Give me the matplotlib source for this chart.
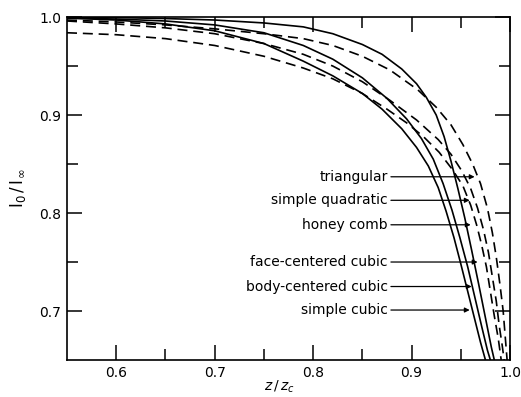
import matplotlib
matplotlib.use("Agg")
import matplotlib.pyplot as plt

# solid curves (three-dimensional lattices)
s1_x = [0.550, 0.600, 0.650, 0.700, 0.750, 0.790, 0.820, 0.850, 0.870, 0.890, 0.905, 0.915,
        0.925, 0.933, 0.940, 0.947, 0.954, 0.961, 0.968, 0.975, 0.981, 0.984]
s1_y = [1.000, 0.9995, 0.9985, 0.997, 0.994, 0.990, 0.983, 0.972, 0.962, 0.947, 0.932, 0.918,
        0.900, 0.878, 0.853, 0.825, 0.795, 0.762, 0.728, 0.693, 0.663, 0.650]
s2_x = [0.550, 0.600, 0.650, 0.700, 0.750, 0.790, 0.820, 0.850, 0.875, 0.895, 0.910, 0.922,
        0.932, 0.941, 0.949, 0.957, 0.964, 0.971, 0.977, 0.980]
s2_y = [0.999, 0.998, 0.996, 0.992, 0.984, 0.971, 0.957, 0.938, 0.917, 0.896, 0.876, 0.855,
        0.830, 0.803, 0.775, 0.745, 0.715, 0.685, 0.660, 0.650]
s3_x = [0.550, 0.600, 0.650, 0.700, 0.750, 0.790, 0.820, 0.850, 0.870, 0.890, 0.905, 0.917,
        0.927, 0.935, 0.943, 0.950, 0.957, 0.964, 0.970, 0.975]
s3_y = [0.999, 0.997, 0.993, 0.986, 0.973, 0.955, 0.940, 0.922, 0.906, 0.886, 0.867, 0.848,
        0.826, 0.802, 0.775, 0.748, 0.720, 0.692, 0.668, 0.650]

# dashed curves (two-dimensional lattices)
d1_x = [0.550, 0.600, 0.650, 0.700, 0.750, 0.790, 0.820, 0.850, 0.878, 0.906, 0.925, 0.940,
        0.952, 0.962, 0.970, 0.977, 0.982, 0.986, 0.990, 0.993, 0.995, 0.997]
d1_y = [0.997, 0.995, 0.992, 0.988, 0.983, 0.978, 0.971, 0.960, 0.946, 0.926, 0.908, 0.890,
        0.870, 0.850, 0.830, 0.805, 0.780, 0.755, 0.725, 0.700, 0.675, 0.650]
d2_x = [0.550, 0.600, 0.650, 0.700, 0.750, 0.790, 0.820, 0.850, 0.878, 0.905, 0.927, 0.940,
        0.951, 0.960, 0.967, 0.973, 0.978, 0.982, 0.986, 0.989, 0.992, 0.994]
d2_y = [0.996, 0.993, 0.989, 0.983, 0.973, 0.962, 0.950, 0.934, 0.915, 0.895, 0.875, 0.860,
        0.843, 0.825, 0.805, 0.783, 0.760, 0.735, 0.710, 0.685, 0.665, 0.650]
d3_x = [0.550, 0.600, 0.650, 0.700, 0.750, 0.790, 0.820, 0.850, 0.875, 0.895, 0.912, 0.928,
        0.941, 0.952, 0.960, 0.966, 0.971, 0.976, 0.980, 0.984, 0.988, 0.991]
d3_y = [0.984, 0.982, 0.978, 0.971, 0.960, 0.948, 0.937, 0.922, 0.906, 0.892, 0.878, 0.862,
        0.845, 0.828, 0.808, 0.788, 0.768, 0.745, 0.720, 0.695, 0.672, 0.650]

labels = ["triangular", "simple quadratic", "honey comb",
          "face-centered cubic", "body-centered cubic", "simple cubic"]
label_y = [0.837, 0.813, 0.788, 0.750, 0.725, 0.701]
arrow_tip_x = [0.964, 0.959, 0.960, 0.967, 0.961, 0.959]

fig = plt.figure(figsize=(5.21, 3.97), dpi=100)
ax = fig.add_axes([0.1286, 0.0932, 0.8504, 0.8638])

for xs, ys in [(s1_x, s1_y), (s2_x, s2_y), (s3_x, s3_y)]:
    ax.plot(xs, ys, color="black", lw=1.2, solid_joinstyle="round")
for xs, ys in [(d1_x, d1_y), (d2_x, d2_y), (d3_x, d3_y)]:
    ax.plot(xs, ys, color="black", lw=1.2, dashes=(6, 3.5))

for lab, yy, tip in zip(labels, label_y, arrow_tip_x):
    ax.text(0.876, yy, lab, ha="right", va="center", fontsize=10)
    ax.annotate("", xy=(tip, yy), xytext=(0.879, yy),
                arrowprops=dict(arrowstyle="-|>", color="black", lw=0.9,
                                mutation_scale=7, shrinkA=0, shrinkB=0))

ax.set_xlim(0.55, 1.0)
ax.set_ylim(0.65, 1.0)
ax.set_xticks([0.6, 0.7, 0.8, 0.9, 1.0])
ax.set_xticklabels(["0.6", "0.7", "0.8", "0.9", "1.0"])
ax.set_yticks([0.7, 0.8, 0.9, 1.0])
ax.set_yticklabels(["0.7", "0.8", "0.9", "1.0"])
ax.set_xticks([0.65, 0.75, 0.85, 0.95], minor=True)
ax.set_yticks([0.75, 0.85, 0.95], minor=True)
ax.tick_params(which="both", direction="in", top=True, right=True,
               labelsize=10, width=1.1, pad=4)
ax.tick_params(which="major", length=11)
ax.tick_params(which="minor", length=8)
for sp in ax.spines.values():
    sp.set_linewidth(1.2)

ax.set_xlabel(r"$z\,/\,z_c$", fontsize=10)
ax.xaxis.set_label_coords(0.48, -0.055)
ax.set_ylabel(r"$\mathrm{I_0\,/\,I_\infty}$", fontsize=12, labelpad=8)

fig.savefig("out.png", dpi=100)
